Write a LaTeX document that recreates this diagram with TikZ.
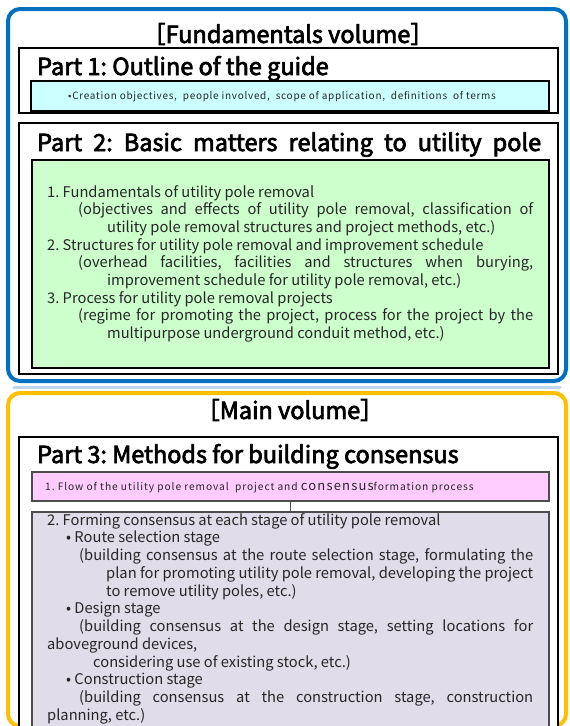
\documentclass[tikz,border=0pt]{standalone}
\usepackage{fontspec}
\newfontfamily\jp{Noto Sans CJK JP}
\newfontfamily\jpt{Noto Sans CJK JP}[FakeBold=3]
\newfontfamily\jps{Noto Sans CJK JP}[LetterSpace=7]
\newfontfamily\jpp{Noto Sans CJK JP}[LetterSpace=9]
\definecolor{volblue}{RGB}{0,112,192}
\definecolor{volorange}{RGB}{255,192,0}
\definecolor{fillcyan}{RGB}{204,255,255}
\definecolor{fillgreen}{RGB}{204,255,204}
\definecolor{fillpink}{RGB}{255,204,255}
\definecolor{filllav}{RGB}{224,220,234}
\definecolor{shadeblue}{RGB}{189,215,238}
\newcommand\jl[2]{\makebox[#1pt][s]{#2}}
\frenchspacing
\tikzset{
  volbox/.style={draw, line width=4pt, rounded corners=12pt, anchor=north west, inner sep=0pt, outer sep=0pt},
  partbox/.style={draw=black, line width=1.8pt, fill=white, anchor=north west, inner sep=0pt, outer sep=0pt},
  inbox/.style={draw=black, line width=1.6pt, anchor=north west, inner sep=0pt, outer sep=0pt},
  thinbox/.style={draw=black!70, line width=1.2pt, anchor=north west, inner sep=0pt, outer sep=0pt},
  voltitle/.style={anchor=center, inner sep=0pt, font=\fontsize{23.5}{26}\jpt\frenchspacing},
  parttitle/.style={anchor=base west, inner sep=0pt, font=\fontsize{23.5}{26}\jpt\frenchspacing},
  ln/.style={anchor=base west, inner sep=0pt, font=\fontsize{14.7}{18}\jp\frenchspacing, text=black!85},
  small/.style={inner sep=0pt, font=\fontsize{10}{11}\jps\frenchspacing, text=black!85},
  smallp/.style={inner sep=0pt, font=\fontsize{10.2}{11}\jpp\frenchspacing, text=black!85}
}
\begin{document}
\begin{tikzpicture}[x=1pt,y=-1pt]
\useasboundingbox (0,0) rectangle (570,726);
\fill[white] (0,0) rectangle (570,726);
% volume frames
\draw[shadeblue, line width=3pt, line cap=round] (14,387) -- (560,387);
\node[volbox, draw=volblue, minimum width=558pt, minimum height=372pt] (fund) at (8,9) {};
\node[volbox, draw=volorange, minimum width=558pt, minimum height=333pt] (main) at (8,393) {};
% fundamentals volume
\node[voltitle] (fundtitle) at (288,34) {［Fundamentals volume］};
\node[partbox, minimum width=539pt, minimum height=65pt] (p1) at (19,48) {};
\node[parttitle] (p1t) at (37,75) {Part 1: Outline of the guide};
\node[inbox, fill=fillcyan, minimum width=518pt, minimum height=30pt] (p1c) at (31,81) {};
\node[small, anchor=center] (p1ct) at (282,97) {•Creation objectives,\ \ people involved,\ \ scope of application,\ \ definitions\ \ of terms};
\node[partbox, minimum width=539pt, minimum height=251pt] (p2) at (19,123) {};
\node[parttitle] (p2t) at (37,151) {\jl{504}{Part 2: Basic matters relating to utility pole}};
\node[inbox, fill=fillgreen, minimum width=517pt, minimum height=208pt] (p2c) at (32,160) {};
\node[ln] (g1) at (47,197) {1. Fundamentals of utility pole removal};
\node[ln] (g2) at (78,214.7) {\jl{455}{(objectives and effects of utility pole removal, classification of}};
\node[ln] (g3) at (107,232.4) {utility pole removal structures and project methods, etc.)};
\node[ln] (g4) at (47,250.1) {2. Structures for utility pole removal and improvement schedule};
\node[ln] (g5) at (78,267.8) {\jl{455}{(overhead facilities, facilities and structures when burying,}};
\node[ln] (g6) at (107,285.5) {improvement schedule for utility pole removal, etc.)};
\node[ln] (g7) at (47,303.2) {3. Process for utility pole removal projects};
\node[ln] (g8) at (78,320.9) {\jl{455}{(regime for promoting the project, process for the project by the}};
\node[ln] (g9) at (107,338.6) {multipurpose underground conduit method, etc.)};
% main volume
\node[voltitle] (maintitle) at (290,410) {［Main volume］};
\node[partbox, minimum width=539pt, minimum height=290pt] (p3) at (19,437) {};
\node[parttitle] (p3t) at (37,463) {Part 3: Methods for building consensus};
\node[thinbox, fill=fillpink, minimum width=517pt, minimum height=29pt] (p3a) at (32,472) {};
\node[smallp, anchor=base west] (p3at) at (45,490) {1. Flow of the utility pole removal\ \ project and {\fontsize{13}{13}\selectfont consensus}formation process};
\node[thinbox, fill=filllav, minimum width=517pt, minimum height=216pt] (p3b) at (32,512) {};
\draw[black!70, line width=1.2pt] (p3a.south) -- (p3b.north);
\node[ln] (l1) at (47,525) {2. Forming consensus at each stage of utility pole removal};
\node[ln] (l2) at (66,542.75) {• Route selection stage};
\node[ln] (l3) at (79,560.5) {\jl{454}{(building consensus at the route selection stage, formulating the}};
\node[ln] (l4) at (106,578.25) {\jl{427}{plan for promoting utility pole removal, developing the project}};
\node[ln] (l5) at (106,596) {to remove utility poles, etc.)};
\node[ln] (l6) at (66,613.75) {• Design stage};
\node[ln] (l7) at (79,631.5) {\jl{454}{(building consensus at the design stage, setting locations for}};
\node[ln] (l8) at (47,649.25) {aboveground devices,};
\node[ln] (l9) at (93,667) {considering use of existing stock, etc.)};
\node[ln] (l10) at (66,684.75) {• Construction stage};
\node[ln] (l11) at (79,702.5) {\jl{454}{(building consensus at the construction stage, construction}};
\node[ln] (l12) at (47,720.25) {planning, etc.)};
\end{tikzpicture}
\end{document}
